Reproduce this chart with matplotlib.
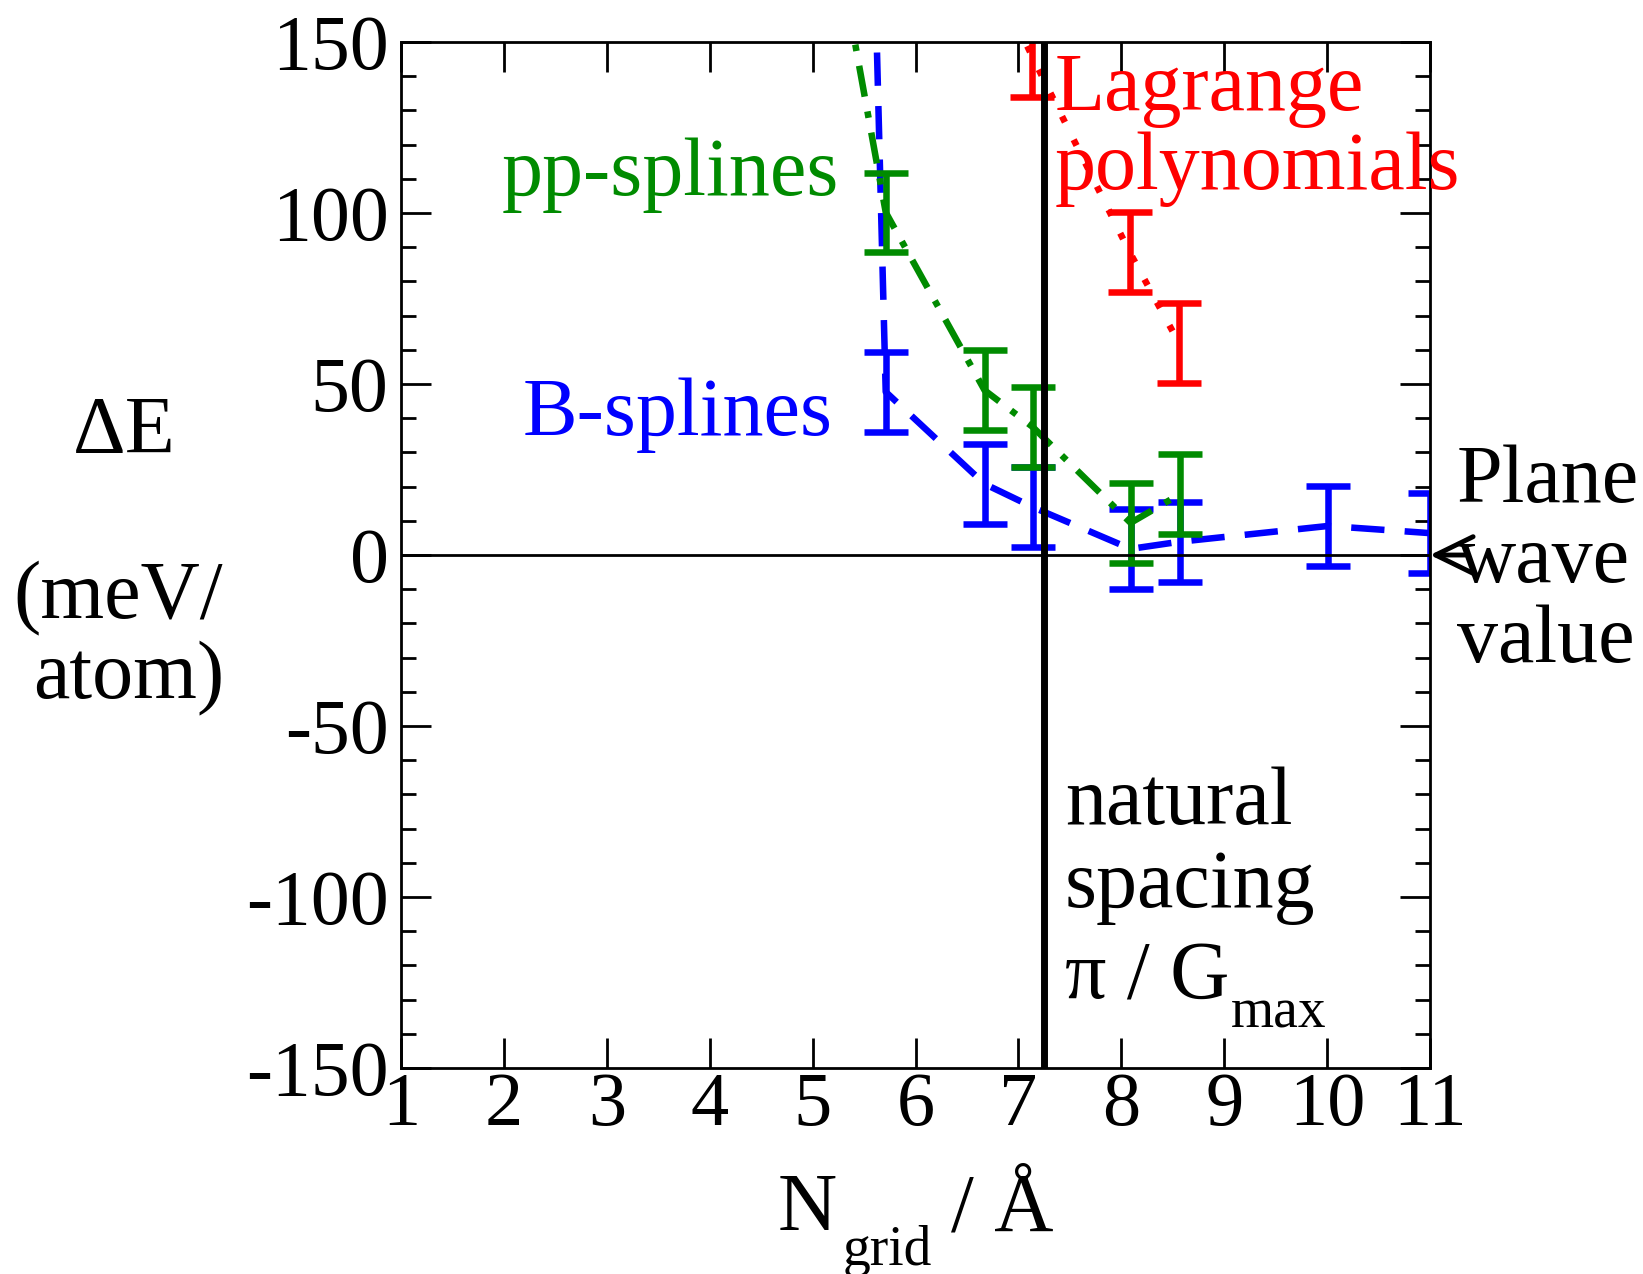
import numpy as np
import matplotlib
matplotlib.use("Agg")
import matplotlib.pyplot as plt

plt.rcParams['font.family'] = ['Liberation Serif', 'DejaVu Serif']
plt.rcParams['axes.unicode_minus'] = False

# data (points above 150 are clipped by the axes)
bspl_x = [5.0, 5.71, 6.67, 7.14, 8.09, 8.57, 10.01, 11.0]
bspl_y = [880, 47.7, 20.8, 14.0, 1.8, 3.9, 8.5, 6.4]
bspl_err = [12, 11.7, 11.7, 11.7, 11.7, 11.7, 11.7, 11.7]

pp_x = [5.0, 5.71, 6.67, 7.14, 8.09, 8.57]
pp_y = [218, 100.2, 48.2, 37.4, 9.4, 17.8]
pp_err = [12, 11.5, 11.7, 11.7, 11.7, 11.7]

lag_x = [6.67, 7.13, 8.08, 8.56]
lag_y = [175, 146, 88.6, 62.0]
lag_err = [12, 12, 11.7, 11.7]

natural_spacing = 7.25

GREEN = '#008b00'
BLUE = '#0000ff'
RED = '#ff0000'

fig = plt.figure(figsize=(16.43, 12.74), dpi=100)
ax = fig.add_axes([0.2441, 0.1617, 0.6263, 0.8053])

lw = 4.7
ax.plot(bspl_x, bspl_y, color=BLUE, lw=lw, ls=(0, (5.1, 3.1)))
ax.errorbar(bspl_x, bspl_y, yerr=bspl_err, fmt='none', ecolor=BLUE,
            elinewidth=lw, capsize=16, capthick=lw)

ax.plot(pp_x, pp_y, color=GREEN, lw=lw, ls=(0, (4.8, 2.3, 1.0, 2.3)))
ax.errorbar(pp_x, pp_y, yerr=pp_err, fmt='none', ecolor=GREEN,
            elinewidth=lw, capsize=16, capthick=lw)

ax.plot(lag_x, lag_y, color=RED, lw=lw, ls=(0, (1.0, 3.0)))
ax.errorbar(lag_x, lag_y, yerr=lag_err, fmt='none', ecolor=RED,
            elinewidth=lw, capsize=16, capthick=lw)

ax.axhline(0, color='black', lw=2)
ax.axvline(natural_spacing, color='black', lw=5)

ax.set_xlim(1, 11)
ax.set_ylim(-150, 150)
ax.set_xticks(np.arange(1, 12, 1))
ax.set_yticks(np.arange(-150, 151, 50))
ax.set_yticks(np.arange(-150, 151, 10), minor=True)
ax.tick_params(which='both', direction='in', top=True, right=True, width=2)
ax.tick_params(which='major', length=21.5)
ax.tick_params(which='minor', length=10.8)
ax.tick_params(axis='x', labelsize=55, pad=3)
ax.tick_params(axis='y', labelsize=56, pad=9)
for s in ax.spines.values():
    s.set_linewidth(2)

fs = 59
sub = 40
ax.text(3.62, 105.3, 'pp-splines', color=GREEN, fontsize=fs, ha='center', va='baseline')
ax.text(3.69, 35.1, 'B-splines', color=BLUE, fontsize=fs, ha='center', va='baseline')
ax.text(7.35, 130.1, 'Lagrange', color=RED, fontsize=fs, ha='left', va='baseline')
ax.text(7.35, 107.0, 'polynomials', color=RED, fontsize=fs, ha='left', va='baseline')

ax.text(7.45, -78.7, 'natural', fontsize=fs, ha='left', va='baseline')
ax.text(7.45, -103.0, 'spacing', fontsize=fs, ha='left', va='baseline')
ax.text(7.45, -129.8, 'π / G', fontsize=fs, ha='left', va='baseline')
ax.text(9.06, -138.3, 'max', fontsize=sub, ha='left', va='baseline')

for txt, y in [('Plane', 15.5), ('wave', -7.9), ('value', -31.3)]:
    ax.text(11.26, y, txt, fontsize=fs, ha='left', va='baseline', clip_on=False)

ax.text(-1.69, 29.8, 'ΔE', fontsize=fs, ha='center', va='baseline')
ax.text(-1.75, -18.4, '(meV/', fontsize=fs, ha='center', va='baseline')
ax.text(-1.65, -41.8, 'atom)', fontsize=fs, ha='center', va='baseline')

ax.annotate('', xy=(11.0, 0), xytext=(11.34, 0), annotation_clip=False,
            arrowprops=dict(arrowstyle='->,head_length=0.45,head_width=0.22',
                            mutation_scale=60, lw=3.5, color='black',
                            shrinkA=0, shrinkB=0))

# x label with a low subscript, as in the reference
ax.text(4.66, -197.4, 'N', fontsize=fs, ha='left', va='baseline', clip_on=False)
ax.text(5.29, -207.6, 'grid', fontsize=sub, ha='left', va='baseline', clip_on=False)
ax.text(6.345, -197.4, '/ Å', fontsize=fs, ha='left', va='baseline', clip_on=False)

fig.savefig('out.png', dpi=100)
